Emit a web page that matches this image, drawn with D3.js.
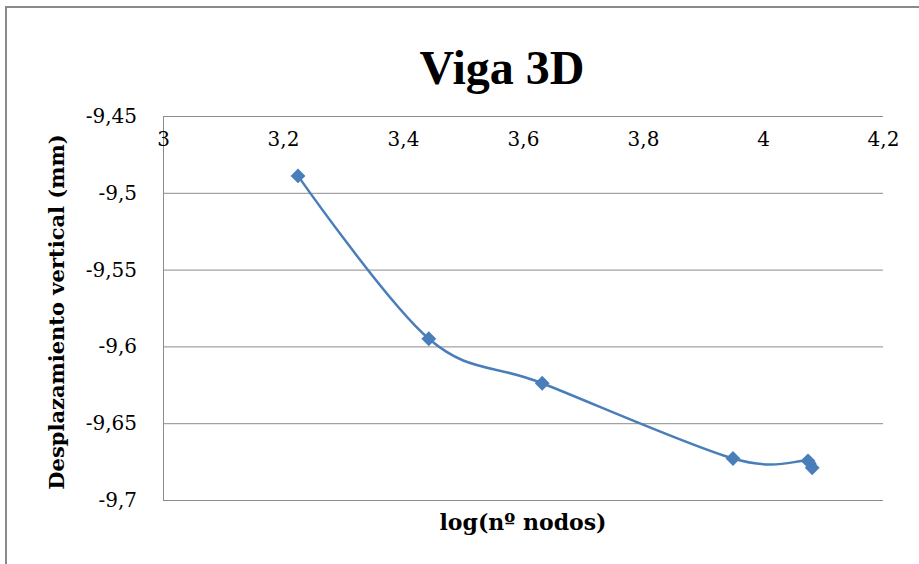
<!DOCTYPE html>
<html>
<head>
<meta charset="utf-8">
<script src="https://cdn.jsdelivr.net/npm/d3@7"></script>
<style>
  html, body { margin: 0; padding: 0; background: #fff; }
  svg { display: block; }
</style>
</head>
<body>
<svg id="chart" width="919" height="564"></svg>
<script>
// log10 of the node count and the vertical displacement measured for each mesh
const logNodes = [3.225, 3.443, 3.632, 3.950, 4.075, 4.082];
const displacement = [-9.489, -9.595, -9.624, -9.673, -9.6745, -9.679];

const xTicks = [3, 3.2, 3.4, 3.6, 3.8, 4, 4.2];
const yTicks = [-9.45, -9.5, -9.55, -9.6, -9.65, -9.7];

const titleText = "Viga 3D";
const xTitle = "log(nº nodos)";
const yTitle = "Desplazamiento vertical (mm)";

const W = 919, H = 564;
const plot = { left: 163, right: 883, top: 116, bottom: 500 };
const serif = "'DejaVu Serif', 'Liberation Serif', serif";
const comma = d => String(d).replace(".", ",");

const svg = d3.select("#chart");

// chart frame
svg.append("rect")
  .attr("x", 6).attr("y", 7)
  .attr("width", W + 10).attr("height", H + 10)
  .attr("fill", "#fff")
  .attr("stroke", "#8a8a8a").attr("stroke-width", 2);

const x = d3.scaleLinear().domain([3, 4.2]).range([plot.left, plot.right]);
const y = d3.scaleLinear().domain([-9.7, -9.45]).range([plot.bottom, plot.top]);

// horizontal gridlines
svg.append("g")
  .attr("transform", `translate(${plot.left},0)`)
  .call(d3.axisLeft(y).tickValues(yTicks).tickSize(-(plot.right - plot.left)).tickFormat(""))
  .call(g => g.select(".domain").remove())
  .call(g => g.selectAll(".tick line").attr("stroke", "#8c8c8c").attr("stroke-width", 1));

// y axis with labels
const yAxis = svg.append("g")
  .attr("transform", `translate(${plot.left},0)`)
  .call(d3.axisLeft(y).tickValues(yTicks).tickSize(0).tickPadding(26).tickFormat(comma));
yAxis.select(".domain").attr("stroke", "#8c8c8c").attr("stroke-width", 1);
yAxis.selectAll("text")
  .attr("font-family", serif).attr("font-size", 20).attr("fill", "#000");

// x axis sits at the top value of the y range, labels below it
const xAxis = svg.append("g")
  .attr("transform", `translate(0,${plot.top})`)
  .call(d3.axisBottom(x).tickValues(xTicks).tickSize(0).tickPadding(16).tickFormat(comma));
xAxis.select(".domain").remove();
xAxis.selectAll("text")
  .attr("font-family", serif).attr("font-size", 20).attr("fill", "#000");

// smoothed series line
const pts = logNodes.map((v, i) => [v, displacement[i]]);
const line = d3.line()
  .x(d => x(d[0])).y(d => y(d[1]))
  .curve(d3.curveCatmullRom.alpha(0));
svg.append("path")
  .datum(pts)
  .attr("d", line)
  .attr("fill", "none")
  .attr("stroke", "#4a7ebb")
  .attr("stroke-width", 2.5);

// diamond markers
const diamond = d3.symbol().type(d3.symbolSquare).size(110);
svg.append("g").selectAll("path")
  .data(pts)
  .join("path")
  .attr("d", diamond)
  .attr("transform", d => `translate(${x(d[0])},${y(d[1])}) rotate(45)`)
  .attr("fill", "#4a7ebb");

// title and axis titles
svg.append("text")
  .attr("x", 502).attr("y", 84)
  .attr("text-anchor", "middle")
  .attr("font-family", "'Liberation Serif', serif")
  .attr("font-weight", "bold").attr("font-size", 48)
  .text(titleText);

svg.append("text")
  .attr("x", 523).attr("y", 530)
  .attr("text-anchor", "middle")
  .attr("font-family", serif)
  .attr("font-weight", "bold").attr("font-size", 22)
  .text(xTitle);

svg.append("text")
  .attr("transform", `translate(64,${(plot.top + plot.bottom) / 2 + 4}) rotate(-90)`)
  .attr("text-anchor", "middle")
  .attr("font-family", serif)
  .attr("font-weight", "bold").attr("font-size", 21)
  .text(yTitle);
</script>
</body>
</html>
